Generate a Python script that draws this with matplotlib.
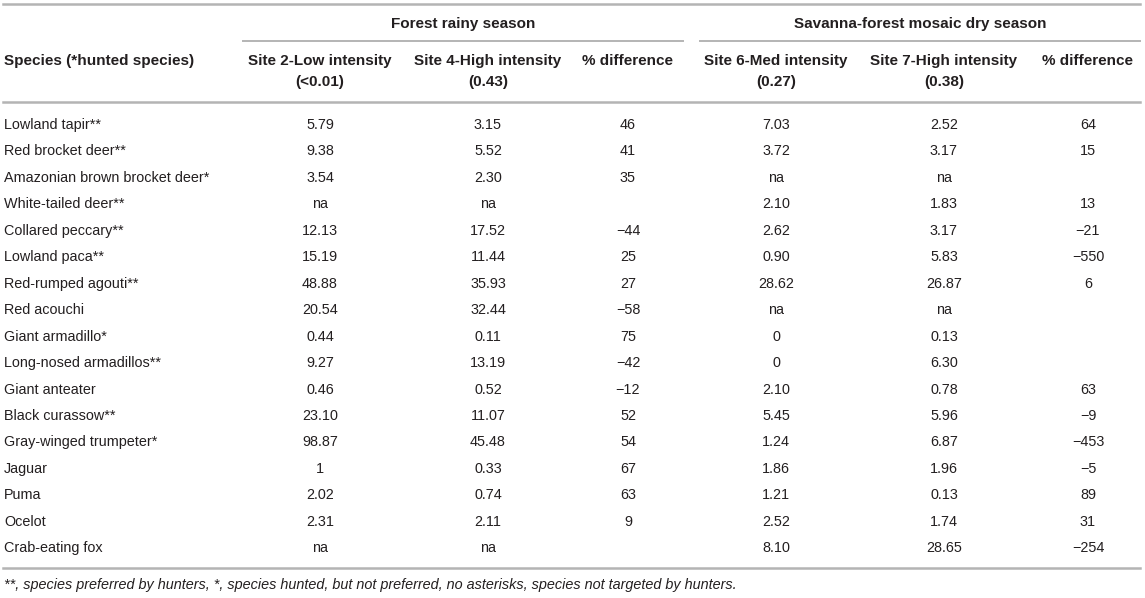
import matplotlib
matplotlib.use("Agg")
import matplotlib.pyplot as plt

# table content
species = [
    "Lowland tapir**", "Red brocket deer**", "Amazonian brown brocket deer*",
    "White-tailed deer**", "Collared peccary**", "Lowland paca**",
    "Red-rumped agouti**", "Red acouchi", "Giant armadillo*",
    "Long-nosed armadillos**", "Giant anteater", "Black curassow**",
    "Gray-winged trumpeter*", "Jaguar", "Puma", "Ocelot", "Crab-eating fox",
]
site2 = ["5.79", "9.38", "3.54", "na", "12.13", "15.19", "48.88", "20.54", "0.44",
         "9.27", "0.46", "23.10", "98.87", "1", "2.02", "2.31", "na"]
site4 = ["3.15", "5.52", "2.30", "na", "17.52", "11.44", "35.93", "32.44", "0.11",
         "13.19", "0.52", "11.07", "45.48", "0.33", "0.74", "2.11", "na"]
diff_forest = ["46", "41", "35", "", "\u221244", "25", "27", "\u221258", "75",
               "\u221242", "\u221212", "52", "54", "67", "63", "9", ""]
site6 = ["7.03", "3.72", "na", "2.10", "2.62", "0.90", "28.62", "na", "0",
         "0", "2.10", "5.45", "1.24", "1.86", "1.21", "2.52", "8.10"]
site7 = ["2.52", "3.17", "na", "1.83", "3.17", "5.83", "26.87", "na", "0.13",
         "6.30", "0.78", "5.96", "6.87", "1.96", "0.13", "1.74", "28.65"]
diff_savanna = ["64", "15", "", "13", "\u221221", "\u2212550", "6", "", "",
                "", "63", "\u22129", "\u2212453", "\u22125", "89", "31", "\u2212254"]

groups = ["Forest rainy season", "Savanna-forest mosaic dry season"]
headers = [("Site 2-Low intensity", "(<0.01)"), ("Site 4-High intensity", "(0.43)"),
           ("% difference", ""), ("Site 6-Med intensity", "(0.27)"),
           ("Site 7-High intensity", "(0.38)"), ("% difference", "")]
footnote = ("**, species preferred by hunters, *, species hunted, but not preferred, "
            "no asterisks, species not targeted by hunters.")

W, H = 1145, 598
TXT = "#231f20"
RULE = "#b4b4b4"
FS = 10.4      # body text
FS_HEAD = 11.0  # bold header text

plt.rcParams["font.family"] = ["Liberation Sans", "DejaVu Sans"]

fig = plt.figure(figsize=(W / 100, H / 100), dpi=100)
ax = fig.add_axes([0, 0, 1, 1])
ax.set_xlim(0, W)
ax.set_ylim(H, 0)
ax.axis("off")

col_x = [320, 488, 628, 776, 944, 1088]
group_span = [(243, 683), (700, 1140)]

# rules
ax.plot([3, 1140], [4, 4], color=RULE, lw=1.8)
for x0, x1 in group_span:
    ax.plot([x0, x1], [41, 41], color=RULE, lw=1.4)
ax.plot([3, 1140], [102, 102], color=RULE, lw=1.8)
ax.plot([3, 1140], [568, 568], color=RULE, lw=1.8)

# group headers
for name, (x0, x1) in zip(groups, group_span):
    ax.text((x0 + x1) / 2, 24, name, ha="center", va="center",
            fontsize=FS_HEAD, fontweight="bold", color=TXT)

# column headers
ax.text(4, 61, "Species (*hunted species)", ha="left", va="center",
        fontsize=FS_HEAD, fontweight="bold", color=TXT)
for x, (l1, l2) in zip(col_x, headers):
    ax.text(x, 61, l1, ha="center", va="center", fontsize=FS_HEAD,
            fontweight="bold", color=TXT)
    if l2:
        ax.text(x, 82, l2, ha="center", va="center", fontsize=FS_HEAD,
                fontweight="bold", color=TXT)

# body
columns = [site2, site4, diff_forest, site6, site7, diff_savanna]
row0, step = 125, 26.45
for i, sp in enumerate(species):
    y = row0 + i * step
    ax.text(4, y, sp, ha="left", va="center", fontsize=FS, color=TXT)
    for x, col in zip(col_x, columns):
        ax.text(x, y, col[i], ha="center", va="center", fontsize=FS, color=TXT)

ax.text(4, 585, footnote, ha="left", va="center", fontsize=FS,
        style="italic", color=TXT)

fig.savefig("out.png", dpi=100, facecolor="white")
